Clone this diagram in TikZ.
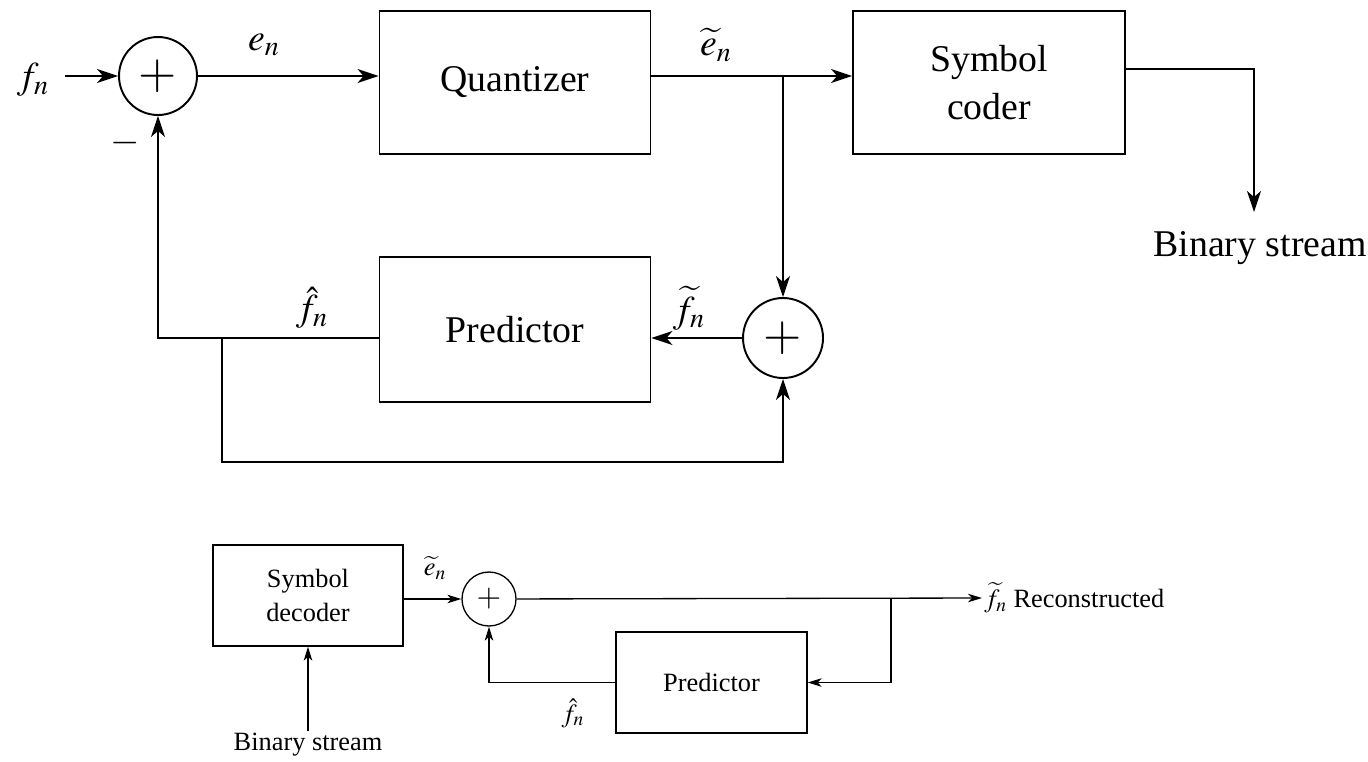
\documentclass[tikz,border=0pt]{standalone}
\usepackage{amsmath}
\usepackage{mathptmx}
\usepackage[no-math]{fontspec}
\setmainfont{Liberation Serif}
\usetikzlibrary{arrows.meta,calc}

\tikzset{
  big/.style={font=\fontsize{21.5}{27}\selectfont, line width=1.1pt},
  small/.style={font=\fontsize{15}{19.5}\selectfont, line width=0.75pt},
  blk/.style={draw, rectangle, align=center, inner sep=0pt},
  sumnode/.style={draw, circle, inner sep=0pt},
  lbl/.style={draw=none, inner sep=1pt},
  arrbig/.style={-{Stealth[length=0.42cm,width=0.28cm,inset=0.12cm]}},
  arrsmall/.style={-{Stealth[length=0.28cm,width=0.17cm,inset=0.08cm]}},
}
\newcommand{\bigplus}{\fontsize{28}{28}\selectfont$+$}
\newcommand{\smallplus}{\fontsize{18}{18}\selectfont$+$}

\begin{document}
\begin{tikzpicture}[x=0.02cm,y=-0.02cm]
  \useasboundingbox (0,0) rectangle (1368,761);

  %encoder
  \begin{scope}[big]
    \node[sumnode, minimum size=1.56cm] (s1) at (158,76) {\bigplus};
    \node[blk, minimum width=5.42cm, minimum height=2.86cm] (q) at (515,82.5) {Quantizer};
    \node[blk, minimum width=5.44cm, minimum height=2.86cm] (sc) at (989,82.5) {Symbol\\coder};
    \node[blk, minimum width=5.42cm, minimum height=2.9cm] (p) at (515,329.5) {Predictor};
    \node[sumnode, minimum size=1.6cm] (s2) at (783,338) {\bigplus};

    \node[lbl] (fn) at (33,80) {$f_n$};
    \node[lbl] (en) at (264,45) {$e_n$};
    \node[lbl] (etn) at (716,45) {$\widetilde{e}_n$};
    \node[lbl] (fhn) at (312,308) {$\hat{f}_n$};
    \node[lbl] (ftn) at (689,308) {$\widetilde{f}_n$};
    \node[lbl] (minus) at (125,143) {$-$};
    \node[lbl] (bs1) at (1260,248) {Binary stream};

    \coordinate (j1) at (783,76);
    \coordinate (j2) at (222,338);
    \coordinate (b1) at (222,462);
    \coordinate (c1) at (1254,69);
    \coordinate (c2) at (1254,212);

    \draw[arrbig] (65,76) -- (s1);
    \draw[arrbig] (s1) -- (q.west |- s1);
    \draw[arrbig] (q.east |- s1) -- (sc.west |- s1);
    \draw[arrbig] (j1) -- (s2);
    \draw[arrbig] (s2) -- (p.east |- s2);
    \draw[arrbig] (p.west |- s2) -| (s1.south);
    \draw[arrbig] (j2) -- (b1) -| (s2.south);
    \draw[arrbig] (sc.east |- c1) -- (c1) -- (c2);
  \end{scope}

  %decoder
  \begin{scope}[small]
    \node[blk, minimum width=3.8cm, minimum height=2.02cm] (sd) at (308,595.5) {Symbol\\decoder};
    \node[sumnode, minimum size=1.08cm] (s3) at (489,599) {\smallplus};
    \node[blk, minimum width=3.82cm, minimum height=2.02cm] (p2) at (711.5,682.5) {Predictor};

    \node[lbl] (bs2) at (308,745) {Binary stream};
    \node[lbl] (etn2) at (435,568) {$\widetilde{e}_n$};
    \node[lbl] (fhn2) at (573,713) {$\hat{f}_n$};
    \node[lbl, anchor=west] (out) at (982,598) {$\widetilde{f}_n$ Reconstructed};

    \coordinate (j3) at (891,599);

    \draw[arrsmall] (bs2.north) -- (sd.south);
    \draw[arrsmall] (sd.east |- s3) -- (s3);
    \draw[arrsmall] (s3) -- (out.west);
    \draw[arrsmall] (j3) |- (p2.east);
    \draw[arrsmall] (p2.west) -| (s3.south);
  \end{scope}

\end{tikzpicture}
\end{document}
